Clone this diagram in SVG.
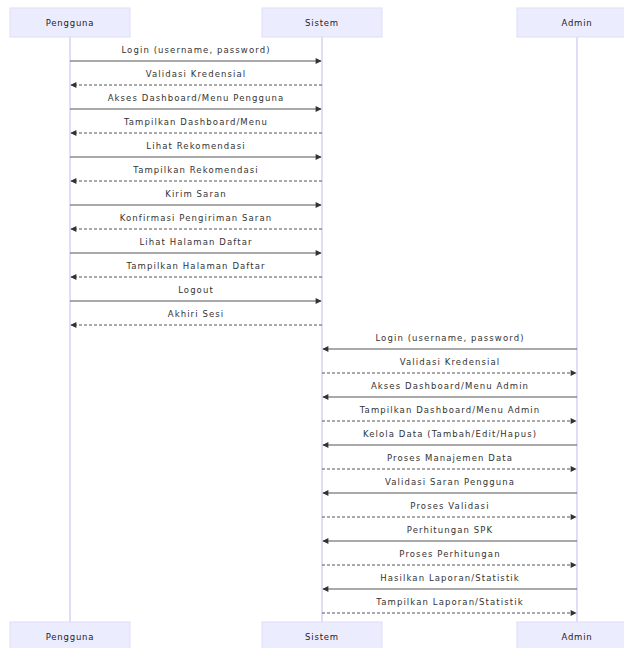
<svg xmlns="http://www.w3.org/2000/svg" width="624" height="648" viewBox="0 0 624 648">
<defs>
<marker id="ah" viewBox="0 0 10 10" refX="9" refY="5" markerWidth="8" markerHeight="6" markerUnits="userSpaceOnUse" orient="auto"><path d="M0,0 L10,5 L0,10 z" fill="#333"/></marker>
<style>
.box{fill:#ECECFF;stroke:#e2dcf8;stroke-width:1}
.life{stroke:#d9d2f5;stroke-width:1.5}
.an{font-family:"DejaVu Sans",sans-serif;font-size:8.5px;fill:#222;text-anchor:middle;letter-spacing:0.8px}
.ml{font-family:"DejaVu Sans",sans-serif;font-size:8.5px;fill:#333;text-anchor:middle;letter-spacing:1.1px}
.s{stroke:#555;stroke-width:1;fill:none;marker-end:url(#ah)}
.d{stroke:#555;stroke-width:1;fill:none;stroke-dasharray:3,2;marker-end:url(#ah)}
</style>
</defs>
<rect width="624" height="648" fill="#fff"/>
<g id="lifelines">
<line class="life" x1="70" y1="37" x2="70" y2="622"/>
<line class="life" x1="322" y1="37" x2="322" y2="622"/>
<line class="life" x1="577" y1="37" x2="577" y2="622"/>
</g>
<g id="Pengguna"><rect class="box" x="10" y="8" width="120" height="29"/><text class="an" x="70" y="26">Pengguna</text></g>
<g id="Sistem"><rect class="box" x="262" y="8" width="120" height="29"/><text class="an" x="322" y="26">Sistem</text></g>
<g id="Admin"><rect class="box" x="517" y="8" width="120" height="29"/><text class="an" x="577" y="26">Admin</text></g>
<g id="Pengguna-bottom"><rect class="box" x="10" y="622" width="120" height="29"/><text class="an" x="70" y="640">Pengguna</text></g>
<g id="Sistem-bottom"><rect class="box" x="262" y="622" width="120" height="29"/><text class="an" x="322" y="640">Sistem</text></g>
<g id="Admin-bottom"><rect class="box" x="517" y="622" width="120" height="29"/><text class="an" x="577" y="640">Admin</text></g>
<g id="connectors">
<line class="s" x1="70" y1="61" x2="321" y2="61"/><text class="ml" x="196" y="53">Login (username, password)</text>
<line class="d" x1="322" y1="85" x2="71" y2="85"/><text class="ml" x="196" y="77">Validasi Kredensial</text>
<line class="s" x1="70" y1="109" x2="321" y2="109"/><text class="ml" x="196" y="101">Akses Dashboard/Menu Pengguna</text>
<line class="d" x1="322" y1="133" x2="71" y2="133"/><text class="ml" x="196" y="125">Tampilkan Dashboard/Menu</text>
<line class="s" x1="70" y1="157" x2="321" y2="157"/><text class="ml" x="196" y="149">Lihat Rekomendasi</text>
<line class="d" x1="322" y1="181" x2="71" y2="181"/><text class="ml" x="196" y="173">Tampilkan Rekomendasi</text>
<line class="s" x1="70" y1="205" x2="321" y2="205"/><text class="ml" x="196" y="197">Kirim Saran</text>
<line class="d" x1="322" y1="229" x2="71" y2="229"/><text class="ml" x="196" y="221">Konfirmasi Pengiriman Saran</text>
<line class="s" x1="70" y1="253" x2="321" y2="253"/><text class="ml" x="196" y="245">Lihat Halaman Daftar</text>
<line class="d" x1="322" y1="277" x2="71" y2="277"/><text class="ml" x="196" y="269">Tampilkan Halaman Daftar</text>
<line class="s" x1="70" y1="301" x2="321" y2="301"/><text class="ml" x="196" y="293">Logout</text>
<line class="d" x1="322" y1="325" x2="71" y2="325"/><text class="ml" x="196" y="317">Akhiri Sesi</text>
<line class="s" x1="577" y1="349" x2="323" y2="349"/><text class="ml" x="450" y="341">Login (username, password)</text>
<line class="d" x1="322" y1="373" x2="576" y2="373"/><text class="ml" x="450" y="365">Validasi Kredensial</text>
<line class="s" x1="577" y1="397" x2="323" y2="397"/><text class="ml" x="450" y="389">Akses Dashboard/Menu Admin</text>
<line class="d" x1="322" y1="421" x2="576" y2="421"/><text class="ml" x="450" y="413">Tampilkan Dashboard/Menu Admin</text>
<line class="s" x1="577" y1="445" x2="323" y2="445"/><text class="ml" x="450" y="437">Kelola Data (Tambah/Edit/Hapus)</text>
<line class="d" x1="322" y1="469" x2="576" y2="469"/><text class="ml" x="450" y="461">Proses Manajemen Data</text>
<line class="s" x1="577" y1="493" x2="323" y2="493"/><text class="ml" x="450" y="485">Validasi Saran Pengguna</text>
<line class="d" x1="322" y1="517" x2="576" y2="517"/><text class="ml" x="450" y="509">Proses Validasi</text>
<line class="s" x1="577" y1="541" x2="323" y2="541"/><text class="ml" x="450" y="533">Perhitungan SPK</text>
<line class="d" x1="322" y1="565" x2="576" y2="565"/><text class="ml" x="450" y="557">Proses Perhitungan</text>
<line class="s" x1="577" y1="589" x2="323" y2="589"/><text class="ml" x="450" y="581">Hasilkan Laporan/Statistik</text>
<line class="d" x1="322" y1="613" x2="576" y2="613"/><text class="ml" x="450" y="605">Tampilkan Laporan/Statistik</text>
</g>
</svg>
